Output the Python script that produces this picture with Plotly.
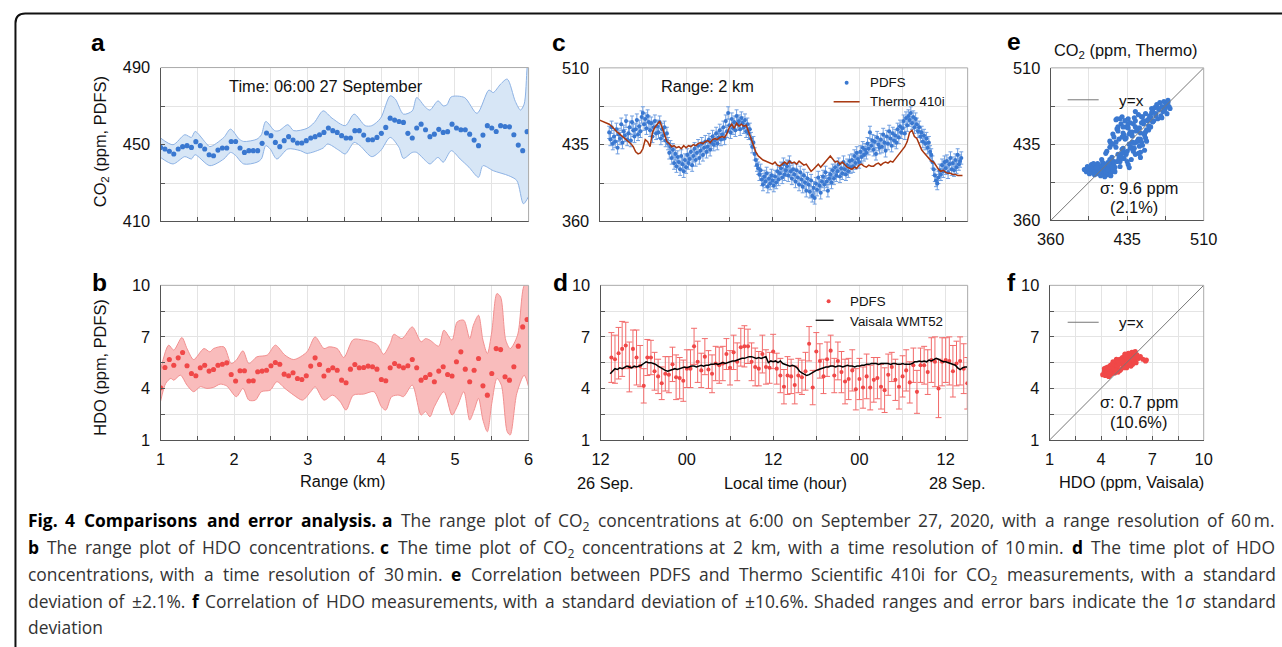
import re
import plotly.graph_objects as go
import pandas as pd

# ====================== DATA ======================
# (a) CO2 range profile, 06:00 27 Sep, 60 m resolution, 1-6 km
range_km = [round(1 + 0.06 * i, 2) for i in range(84)]
co2_range = [448.5, 447.7, 446.5, 445.1, 447.7, 448.9, 449.4, 448.5, 451.5, 449.4,
             447.7, 444.7, 444.2, 447.1, 448.2, 448.2, 451.6, 451.6, 448.2, 445.9,
             446.8, 446.8, 446.8, 450.6, 456.0, 454.6, 451.1, 448.9, 452.0, 454.1,
             452.3, 450.8, 450.8, 452.0, 453.4, 454.1, 455.1, 456.3, 458.6, 457.2,
             456.3, 454.6, 453.4, 453.4, 457.2, 457.2, 454.9, 452.5, 452.5, 453.7,
             455.8, 458.9, 463.7, 462.7, 462.0, 461.5, 455.8, 453.4, 458.6, 460.6,
             457.7, 454.1, 455.4, 457.9, 456.3, 456.7, 460.6, 458.6, 457.7, 457.7,
             455.4, 452.3, 449.4, 454.9, 459.8, 458.6, 456.8, 459.8, 459.4, 459.2,
             455.1, 449.7, 446.8, 456.7]
band_a_up_km = [1.00, 1.17, 1.33, 1.42, 1.47, 1.61, 1.67, 1.86, 1.95, 2.07, 2.13, 2.31, 2.37, 2.43,
                2.55, 2.61, 2.73, 2.81, 2.99, 3.09, 3.21, 3.33, 3.51, 3.63, 3.78, 3.87, 3.99, 4.12,
                4.19, 4.30, 4.42, 4.48, 4.60, 4.66, 4.77, 4.84, 4.89, 4.95, 5.13, 5.30, 5.46, 5.52,
                5.62, 5.71, 5.82, 5.89, 5.94, 5.98, 6.00]
band_a_up = [453.4, 449.9, 455.1, 453.7, 456.8, 451.1, 448.9, 453.7, 458.0, 452.8, 451.6, 452.8, 455.1, 462.0,
             457.2, 457.2, 460.3, 457.2, 458.4, 461.5, 467.5, 463.7, 459.8, 465.8, 459.8, 459.8, 463.7, 475.3,
             473.6, 465.8, 467.5, 474.4, 469.3, 467.9, 472.7, 470.1, 470.6, 474.8, 474.4, 466.2, 478.3, 477.0,
             481.4, 484.0, 472.4, 467.9, 471.0, 490.0, 496.0]
band_a_lo_km = [1.00, 1.17, 1.33, 1.42, 1.47, 1.67, 1.86, 1.95, 2.01, 2.13, 2.31, 2.37, 2.43, 2.49,
                2.58, 2.73, 2.90, 2.99, 3.21, 3.27, 3.42, 3.51, 3.63, 3.71, 3.87, 3.99, 4.12, 4.24,
                4.30, 4.42, 4.48, 4.60, 4.66, 4.77, 4.84, 4.95, 5.07, 5.19, 5.32, 5.38, 5.52, 5.73,
                5.84, 5.93, 6.00]
band_a_lo = [443.3, 439.9, 443.7, 442.5, 444.7, 439.0, 442.5, 445.9, 444.7, 439.9, 440.8, 442.5, 449.4, 447.7,
             442.5, 447.7, 446.8, 445.4, 448.2, 450.3, 447.1, 445.1, 451.1, 449.4, 443.7, 446.8, 453.7, 448.5,
             442.8, 445.9, 445.9, 441.6, 439.9, 443.3, 440.8, 446.8, 442.5, 438.2, 433.0, 439.0, 436.4, 433.8,
             431.3, 419.2, 423.0]

# (b) HDO range profile
hdo_range = [4.04, 5.22, 5.68, 5.35, 5.78, 6.09, 5.32, 4.87, 4.74, 5.20,
             5.35, 5.01, 5.10, 5.35, 5.41, 5.49, 4.81, 4.43, 5.03, 5.03,
             4.43, 4.45, 4.97, 5.01, 5.06, 5.32, 5.51, 5.41, 4.83, 4.74,
             4.91, 4.58, 4.52, 4.74, 5.30, 5.78, 5.39, 4.72, 5.06, 5.20,
             5.06, 4.48, 4.33, 5.12, 5.39, 5.20, 5.22, 5.30, 5.26, 5.12,
             4.52, 4.45, 5.20, 5.45, 5.30, 5.20, 5.32, 5.68, 5.20, 4.48,
             4.64, 4.81, 4.39, 5.01, 5.26, 4.81, 4.72, 5.55, 6.13, 5.12,
             4.39, 5.06, 5.74, 4.15, 3.61, 4.87, 6.32, 6.26, 4.68, 4.48,
             5.26, 6.46, 7.58, 8.01]
band_b_up_km = [1.00, 1.11, 1.18, 1.29, 1.36, 1.45, 1.59, 1.67, 1.72, 1.86, 1.96, 2.03, 2.12, 2.20,
                2.31, 2.45, 2.56, 2.69, 2.81, 2.99, 3.10, 3.22, 3.29, 3.40, 3.49, 3.62, 3.76, 3.87,
                3.95, 4.03, 4.12, 4.17, 4.28, 4.42, 4.54, 4.60, 4.66, 4.78, 4.85, 4.96, 5.03, 5.12,
                5.20, 5.25, 5.32, 5.38, 5.44, 5.50, 5.57, 5.62, 5.69, 5.75, 5.85, 5.94, 6.00]
band_b_up = [5.06, 6.52, 6.23, 6.96, 6.32, 5.68, 6.32, 6.13, 6.32, 6.42, 5.45, 5.65, 6.19, 5.45,
             5.84, 5.94, 6.52, 5.94, 5.68, 6.13, 7.00, 6.32, 6.42, 6.32, 5.80, 6.85, 6.81, 6.71,
             6.52, 5.99, 6.61, 7.15, 6.90, 7.58, 6.71, 6.90, 6.81, 6.46, 7.39, 6.81, 7.87, 7.97,
             6.90, 7.68, 8.26, 6.81, 6.03, 7.29, 9.52, 9.32, 6.81, 6.32, 7.10, 10.0, 10.2]
band_b_lo_km = [1.00, 1.07, 1.14, 1.18, 1.27, 1.36, 1.45, 1.54, 1.63, 1.72, 1.81, 1.90, 2.03, 2.12,
                2.20, 2.29, 2.37, 2.49, 2.58, 2.69, 2.81, 2.93, 3.04, 3.10, 3.22, 3.34, 3.44, 3.52,
                3.62, 3.76, 3.90, 4.00, 4.06, 4.14, 4.24, 4.30, 4.42, 4.54, 4.60, 4.66, 4.72, 4.85,
                4.96, 5.03, 5.12, 5.20, 5.26, 5.32, 5.38, 5.44, 5.50, 5.57, 5.63, 5.71, 5.75, 5.84,
                5.94, 6.00]
band_b_lo = [3.23, 4.29, 4.58, 4.48, 4.77, 4.19, 3.81, 4.10, 4.00, 4.06, 4.25, 4.14, 3.52, 4.00,
             3.32, 3.32, 3.81, 3.90, 4.39, 4.00, 3.61, 3.32, 3.81, 4.10, 3.32, 3.61, 3.23, 2.74,
             3.61, 3.67, 3.81, 2.94, 2.74, 3.52, 3.61, 3.52, 4.19, 2.45, 2.65, 2.35, 2.94, 3.81,
             2.45, 2.94, 3.81, 2.16, 2.74, 3.42, 2.16, 1.48, 3.13, 4.58, 4.19, 1.48, 1.29, 3.71,
             4.77, 4.10]

# (c) CO2 time series at 2 km (PDFS every 10 min from 13:20 26 Sep; Thermo every 20 min from 12:00)
co2_pdfs_t = [
    447, 440, 452, 436,
    443, 438, 450, 432, 445, 441, 455, 437, 448, 444, 458, 440,
    446, 452, 439, 457, 449, 443, 450, 459, 445, 453, 448, 462,
    466, 455, 460, 451, 463, 457, 449, 456, 443, 452, 458, 446,
    453, 447, 457, 441, 450, 444, 452, 439, 446, 436, 427, 433,
    422, 430, 417, 426, 414, 423, 418, 411, 424, 416, 409, 420,
    413, 425, 417, 421, 428, 415, 424, 431, 420, 427, 434, 422,
    429, 436, 425, 432, 438, 428, 433, 440, 430, 437, 443, 435,
    439, 446, 436, 442, 449, 440, 445, 452, 441, 458, 448, 466,
    454, 447, 460, 451, 457, 449, 463, 455, 458, 450, 461, 456,
    452, 459, 448, 455, 446, 450, 441, 433, 437, 426, 420, 415,
    412, 406, 410, 401, 396, 404, 399, 407, 394, 402, 397, 405,
    400, 395, 404, 398, 409, 401, 407, 412, 403, 416, 406, 410,
    414, 405, 418, 409, 402, 411, 406, 399, 410, 403, 396, 408,
    401, 394, 405, 398, 390, 402, 396, 389, 400, 385, 393, 383,
    397, 391, 403, 395, 388, 399, 404, 396, 408, 399, 390, 402,
    406, 398, 410, 402, 413, 405, 409, 416, 404, 412, 407, 418,
    411, 406, 415, 409, 419, 413, 420, 414, 424, 417, 427, 421,
    418, 428, 423, 432, 425, 430, 427, 436, 431, 447, 434, 439,
    430, 438, 426, 442, 435, 432, 440, 433, 445, 437, 429, 443,
    436, 448, 441, 434, 446, 439, 444, 437, 450, 442, 453, 447,
    451, 458, 446, 461, 454, 463, 459, 466, 456, 462, 452, 460,
    455, 448, 452, 443, 447, 438, 444, 436, 441, 432, 437, 428,
    425, 418, 411, 405, 400, 397, 403, 410, 406, 415, 409, 418,
    412, 419, 408, 416, 422, 411, 417, 410, 420, 413, 425, 416,
    419, 422]
CO2_SIGMA = 6
co2_thermo_t = [
    459, 458, 457, 456, 455, 453, 450, 448, 446, 444, 442, 440,
    438, 436, 433, 428, 426, 427, 431, 440, 438, 433, 447, 452,
    455, 458, 452, 444, 438, 436, 433, 434, 432, 433, 431, 434,
    432, 434, 433, 435, 434, 436, 437, 436, 438, 439, 437, 440,
    441, 440, 442, 443, 442, 446, 452, 455, 451, 456, 453, 455,
    453, 454, 448, 440, 434, 428, 424, 422, 420, 419, 418, 417,
    416, 418, 415, 414, 416, 418, 416, 419, 417, 418, 416, 419,
    417, 415, 416, 412, 409, 411, 414, 416, 413, 416, 419, 422,
    424, 421, 418, 419, 416, 418, 415, 413, 412, 411, 413, 412,
    415, 416, 414, 413, 415, 414, 414, 416, 417, 415, 417, 418,
    417, 419, 418, 421, 423, 426, 429, 433, 438, 447, 449, 443,
    441, 436, 430, 427, 424, 421, 419, 418, 414, 411, 409, 410,
    408, 407, 407, 406, 406, 405, 405, 405]

# (d) HDO time series (PDFS every 30 min from 13:30 26 Sep; Vaisala every 20 min from 13:20)
hdo_pdfs_t = [5.8, 5.7, 6.05, 6.3, 6.5, 5.25, 6.3, 5.8, 5.3, 4.15,
              5.8, 5.8, 5.0, 4.7, 4.3, 4.85, 4.8, 5.4, 4.65, 4.6,
              4.45, 5.15, 5.15, 6.45, 5.55, 5.05, 5.85, 5.1, 4.85, 5.45,
              5.35, 5.45, 6.0, 5.2, 6.1, 5.55, 6.4, 6.45, 6.45, 5.55,
              5.25, 5.15, 6.0, 5.25, 5.2, 6.15, 5.15, 4.75, 4.1, 4.75,
              4.7, 4.2, 4.75, 4.65, 5.0, 6.6, 4.05, 6.15, 5.6, 4.7,
              5.7, 6.2, 4.75, 5.6, 4.95, 4.4, 4.55, 5.05, 3.95, 4.55,
              4.05, 4.7, 4.05, 4.5, 4.6, 4.1, 3.9, 4.8, 5.25, 4.5,
              4.1, 4.7, 5.05, 4.35, 5.35, 3.8, 5.35, 5.35, 4.95, 5.65,
              5.55, 4.0, 5.55, 5.65, 5.6, 5.0, 5.45, 5.6, 5.15, 4.3]
hdo_pdfs_err = [1.45, 1.4, 1.5, 1.6, 1.35, 1.45, 1.1, 1.6, 1.2, 1.0,
                1.05, 1.0, 1.1, 1.0, 0.95, 1.0, 1.05, 1.0, 1.3, 1.2,
                1.2, 1.1, 1.1, 1.05, 1.2, 1.0, 1.05, 1.1, 1.1, 1.0,
                1.05, 1.0, 0.9, 1.0, 1.0, 1.1, 1.1, 1.2, 1.0, 1.1,
                1.1, 1.0, 1.1, 1.0, 0.9, 1.0, 0.9, 1.0, 1.0, 1.1,
                1.0, 1.1, 1.0, 1.0, 1.1, 1.0, 1.0, 1.1, 1.0, 1.0,
                1.0, 0.9, 1.0, 1.1, 1.2, 1.3, 1.2, 1.2, 1.2, 1.2,
                1.2, 1.3, 1.3, 1.3, 1.2, 1.3, 1.3, 1.2, 0.85, 1.2,
                1.3, 1.2, 1.2, 1.2, 1.0, 1.25, 1.0, 1.1, 1.3, 1.3,
                1.45, 1.7, 1.4, 1.3, 1.4, 1.5, 1.3, 1.4, 1.45, 1.5]
hdo_vaisala_t = [
    4.85, 5.0,
    5.15, 5.1, 5.2, 5.15, 5.25, 5.3, 5.25, 5.2, 5.3, 5.25, 5.3, 5.35,
    5.45, 5.55, 5.5, 5.5, 5.45, 5.4, 5.3, 5.2, 5.1, 5.05, 5.0, 5.05,
    5.1, 5.15, 5.1, 5.15, 5.2, 5.25, 5.2, 5.25, 5.3, 5.3, 5.25, 5.3,
    5.35, 5.3, 5.35, 5.35, 5.4, 5.4, 5.45, 5.4, 5.45, 5.5, 5.45, 5.5,
    5.55, 5.6, 5.6, 5.65, 5.7, 5.75, 5.75, 5.8, 5.85, 5.85, 5.8, 5.75,
    5.8, 5.75, 5.8, 5.85, 5.5, 5.6, 5.55, 5.6, 5.5, 5.6, 5.45, 5.4,
    5.35, 5.3, 5.35, 5.3, 5.2, 5.0, 4.9, 4.8, 4.75, 4.8, 4.9, 5.0,
    5.05, 5.1, 5.15, 5.2, 5.25, 5.25, 5.3, 5.3, 5.25, 5.3, 5.3, 5.25,
    5.3, 5.35, 5.3, 5.3, 5.25, 5.3, 5.3, 5.35, 5.35, 5.4, 5.4, 5.45,
    5.45, 5.45, 5.4, 5.45, 5.45, 5.45, 5.45, 5.4, 5.45, 5.45, 5.4, 5.4,
    5.45, 5.4, 5.4, 5.4, 5.45, 5.55, 5.55, 5.6, 5.55, 5.6, 5.55, 5.65,
    5.6, 5.7, 5.75, 5.7, 5.6, 5.55, 5.55, 5.5, 5.45, 5.4, 5.35, 5.2,
    5.1, 5.2, 5.25, 5.25]

# (e) CO2 correlation: Thermo (x) vs PDFS (y)
co2_thermo_e = [393, 395, 396, 398, 399, 400, 401, 402, 403, 404, 405, 405, 406, 407, 407, 408, 409, 410, 410, 411,
                412, 412, 413, 414, 414, 415, 416, 417, 418, 418, 419, 420, 421, 422, 423, 396, 400, 403, 406, 409,
                411, 413, 416, 419, 421, 398, 402, 405, 408, 412,
                415, 417, 418, 420, 421, 422, 424, 425, 426, 427, 428, 429, 430, 431, 432, 433, 434, 435, 436, 437,
                438, 439, 440, 441, 442, 443, 444, 445, 446, 447, 448, 449, 450, 451, 452, 453, 454, 455, 456, 457,
                458, 459, 460, 416, 419, 423, 426, 429, 432, 435, 438, 441, 444, 447, 450, 453, 456, 459, 418, 422,
                425, 428, 431, 434, 437, 440, 443, 446, 449, 452, 455, 420, 424, 427, 430, 433, 436, 439, 442, 445,
                448, 451, 454, 457, 424, 430, 436, 442, 448,
                458, 460, 461, 462, 463, 464, 465, 466, 467, 468, 469, 470, 471, 472, 473, 474, 475, 476, 477, 460,
                463, 466, 469, 472, 475, 425, 430, 433, 436,
                426, 429, 431, 434, 437, 440, 443, 446, 449, 452, 428, 433, 438, 443, 448, 453, 421, 418, 414, 410]
co2_pdfs_e = [410, 408, 412, 409, 411, 407, 413, 410, 408, 414, 406, 411, 409, 413, 407, 411, 405, 409, 414, 408,
              412, 406, 410, 415, 408, 411, 405, 413, 409, 416, 407, 412, 410, 414, 408, 413, 415, 405, 416, 404,
              417, 403, 417, 404, 418, 406, 416, 412, 408, 414,
              428, 415, 438, 422, 445, 418, 432, 450, 425, 440, 418, 455, 430, 446, 421, 440, 452, 428, 460, 435,
              447, 420, 443, 455, 431, 458, 437, 449, 426, 451, 440, 462, 434, 455, 446, 465, 438, 458, 449, 461,
              452, 466, 457, 410, 436, 412, 452, 421, 444, 418, 456, 428, 448, 433, 462, 441, 453, 470, 420, 442,
              418, 460, 431, 425, 445, 437, 452, 440, 456, 444, 459, 413, 437, 421, 442, 427, 451, 432, 461, 438,
              446, 458, 449, 463, 459, 426, 415, 436, 422,
              462, 468, 458, 471, 465, 474, 460, 469, 476, 463, 472, 467, 477, 470, 474, 465, 476, 472, 470, 457,
              463, 470, 461, 469, 478, 460, 462, 458, 455,
              448, 423, 452, 441, 412, 447, 425, 464, 437, 429, 413, 458, 431, 467, 427, 447, 435, 432, 426, 420]

# (f) HDO correlation: Vaisala (x) vs PDFS (y)
hdo_vaisala_f = [4.1, 4.2, 4.25, 4.3, 4.35, 4.4, 4.45, 4.5, 4.55, 4.6, 4.65, 4.7, 4.75, 4.8, 4.85, 4.9, 4.95, 5.0,
                 5.05, 5.1, 5.15, 5.2, 5.25, 5.3, 5.35, 5.4, 5.45, 5.5, 5.55, 5.6, 5.65, 5.7, 5.75, 5.8, 5.85, 5.9,
                 5.95, 6.0, 6.05, 6.1, 6.2, 6.3, 6.45, 6.6, 6.65,
                 4.2, 4.3, 4.4, 4.5, 4.6, 4.7, 4.8, 4.9, 5.0, 5.1, 5.2, 5.3, 5.4, 5.5, 5.6, 5.7, 5.8, 5.9, 6.0, 6.1,
                 4.35, 4.55, 4.75, 4.95, 5.15, 5.35, 5.55, 5.75, 5.95, 4.45, 4.65, 4.85, 5.05, 5.25, 5.45, 5.65, 5.85]
hdo_pdfs_f = [4.8, 5.0, 4.75, 5.2, 4.9, 5.25, 4.7, 5.1, 5.35, 4.85, 5.3, 5.0, 5.45, 4.9, 5.55, 5.15, 5.6, 4.95,
              5.4, 5.7, 5.1, 5.5, 5.8, 5.25, 5.65, 5.95, 5.3, 5.75, 5.45, 6.05, 5.55, 5.85, 5.6, 6.1, 5.4, 5.9,
              5.7, 6.15, 5.5, 5.95, 5.75, 5.85, 5.7, 5.6, 5.65,
              5.15, 4.8, 5.05, 4.75, 5.2, 5.55, 5.25, 5.7, 5.35, 5.05, 5.65, 5.45, 6.0, 5.2, 5.8, 5.35, 5.5, 6.1,
              5.65, 5.85,
              5.0, 4.95, 5.15, 5.3, 5.45, 5.2, 5.6, 5.3, 5.55, 4.85, 5.4, 5.05, 5.5, 5.6, 5.85, 5.45, 5.75]

co2_limits = [360, 510]
hdo_limits = [1, 10]

t_co2_pdfs = pd.date_range("2020-09-26 13:20", periods=len(co2_pdfs_t), freq="10min")
t_co2_thermo = pd.date_range("2020-09-26 12:00", periods=len(co2_thermo_t), freq="20min")
t_hdo_pdfs = pd.date_range("2020-09-26 13:30", periods=len(hdo_pdfs_t), freq="30min")
t_hdo_vais = pd.date_range("2020-09-26 13:20", periods=len(hdo_vaisala_t), freq="20min")

# ====================== LAYOUT HELPERS ======================
W, H = 1282, 647
# measured page->picture mapping of the photographing step (picture = O + S * page)
SX, OX = 0.978, 13.5
SY, OY = 0.9745, 8.0
K = 1 / 0.976  # size compensation for fonts / markers

def pgx(x): return (x - OX) / SX          # target picture px -> page px
def pgy(y): return (y - OY) / SY
def px(x): return pgx(x) / W
def py(y): return 1 - pgy(y) / H
def fs(s): return round(s * K, 2)

BLUE = "#3a78d0"
RED = "#f04848"
FONT = "Liberation Sans, Arial, Helvetica, sans-serif"

fig = go.Figure()

# (a)
bl_a = dict(color="#8db2e4", width=1, shape="spline", smoothing=0.8)
fig.add_trace(go.Scatter(x=band_a_lo_km, y=band_a_lo, mode="lines", line=bl_a, xaxis="x", yaxis="y"))
fig.add_trace(go.Scatter(x=band_a_up_km, y=band_a_up, mode="lines", line=bl_a, fill="tonexty",
                         fillcolor="#d7e6f6", xaxis="x", yaxis="y"))
fig.add_trace(go.Scatter(x=range_km, y=co2_range, mode="markers", marker=dict(color=BLUE, size=fs(5)),
                         xaxis="x", yaxis="y"))
# (b)
bl_b = dict(color="#f19090", width=1, shape="spline", smoothing=0.8)
fig.add_trace(go.Scatter(x=band_b_lo_km, y=band_b_lo, mode="lines", line=bl_b, xaxis="x2", yaxis="y2"))
fig.add_trace(go.Scatter(x=band_b_up_km, y=band_b_up, mode="lines", line=bl_b, fill="tonexty",
                         fillcolor="#f9bcbc", xaxis="x2", yaxis="y2"))
fig.add_trace(go.Scatter(x=range_km, y=hdo_range, mode="markers", marker=dict(color=RED, size=fs(5)),
                         xaxis="x2", yaxis="y2"))
# (c)
fig.add_trace(go.Scatter(x=t_co2_pdfs, y=co2_pdfs_t, mode="markers",
                         marker=dict(color=BLUE, size=fs(4)),
                         error_y=dict(type="constant", value=CO2_SIGMA, color="#6f9ee0", thickness=1, width=2),
                         xaxis="x3", yaxis="y3"))
fig.add_trace(go.Scatter(x=t_co2_thermo, y=co2_thermo_t, mode="lines", line=dict(color="#a8360e", width=1.5),
                         xaxis="x3", yaxis="y3"))
# (d)
fig.add_trace(go.Scatter(x=t_hdo_pdfs, y=hdo_pdfs_t, mode="markers",
                         marker=dict(color=RED, size=fs(4)),
                         error_y=dict(type="data", array=hdo_pdfs_err, color="#f26a6a", thickness=1, width=3),
                         xaxis="x4", yaxis="y4"))
fig.add_trace(go.Scatter(x=t_hdo_vais, y=hdo_vaisala_t, mode="lines", line=dict(color="black", width=1.5),
                         xaxis="x4", yaxis="y4"))
# (e)
fig.add_trace(go.Scatter(x=co2_thermo_e, y=co2_pdfs_e, mode="markers", marker=dict(color=BLUE, size=fs(5)),
                         xaxis="x5", yaxis="y5"))
fig.add_trace(go.Scatter(x=co2_limits, y=co2_limits, mode="lines", line=dict(color="#777", width=1),
                         xaxis="x5", yaxis="y5"))
# (f)
fig.add_trace(go.Scatter(x=hdo_vaisala_f, y=hdo_pdfs_f, mode="markers", marker=dict(color=RED, size=fs(5)),
                         xaxis="x6", yaxis="y6"))
fig.add_trace(go.Scatter(x=hdo_limits, y=hdo_limits, mode="lines", line=dict(color="#777", width=1),
                         xaxis="x6", yaxis="y6"))

GRID = "#e4e4e4"
def minor(dtick, tick0):
    return dict(dtick=dtick, tick0=tick0, showgrid=True, gridcolor=GRID, gridwidth=1,
                ticks="inside", ticklen=4, tickcolor="#555")

base = dict(showgrid=True, gridcolor=GRID, gridwidth=1, zeroline=False, showline=True,
            linecolor="#555", linewidth=1.2, ticks="inside", ticklen=4, tickcolor="#555",
            tickfont=dict(family=FONT, size=fs(16), color="#111"), fixedrange=True)

def ax(**kw):
    d = dict(base)
    d.update(kw)
    return d

H12 = 12 * 3600 * 1000
H6 = 6 * 3600 * 1000
T0 = "2020-09-26 12:00"
t_range = ["2020-09-26 12:00", "2020-09-28 15:03"]

fig.update_layout(
    width=W, height=H, margin=dict(l=0, r=0, t=0, b=0), showlegend=False,
    paper_bgcolor="white", plot_bgcolor="white",
    xaxis=ax(domain=[px(160), px(528)], range=[1, 6], dtick=1, tick0=1, minor=minor(0.5, 1),
             showticklabels=False, anchor="y"),
    yaxis=ax(domain=[py(221), py(66.7)], range=[410, 490], dtick=40, tick0=410, minor=minor(20, 410),
             anchor="x", ticklabelstandoff=6),
    xaxis2=ax(domain=[px(160), px(528)], range=[1, 6], dtick=1, tick0=1, minor=minor(0.5, 1),
              anchor="y2", ticklabelstandoff=4),
    yaxis2=ax(domain=[py(440), py(285)], range=[1, 10], dtick=3, tick0=1, minor=minor(1.5, 1),
              anchor="x2", ticklabelstandoff=6),
    xaxis3=ax(domain=[px(599), px(967)], type="date", range=t_range, dtick=H12, tick0=T0,
              minor=minor(H6, T0), showticklabels=False, anchor="y3"),
    yaxis3=ax(domain=[py(221), py(67)], range=[360, 510], dtick=75, tick0=360, minor=minor(37.5, 360),
              anchor="x3", ticklabelstandoff=6),
    xaxis4=ax(domain=[px(600), px(967)], type="date", range=t_range, dtick=H12, tick0=T0,
              minor=minor(H6, T0), tickformat="%H", anchor="y4", ticklabelstandoff=4),
    yaxis4=ax(domain=[py(440), py(285)], range=[1, 10], dtick=3, tick0=1, minor=minor(1.5, 1),
              anchor="x4", ticklabelstandoff=6),
    xaxis5=ax(domain=[px(1050), px(1203)], range=[360, 510], dtick=75, tick0=360, minor=minor(37.5, 360),
              anchor="y5", ticklabelstandoff=4),
    yaxis5=ax(domain=[py(220), py(67)], range=[360, 510], dtick=75, tick0=360, minor=minor(37.5, 360),
              anchor="x5", ticklabelstandoff=6),
    xaxis6=ax(domain=[px(1049), px(1203)], range=[1, 10], dtick=3, tick0=1, minor=minor(1.5, 1),
              anchor="y6", ticklabelstandoff=4),
    yaxis6=ax(domain=[py(440), py(285)], range=[1, 10], dtick=3, tick0=1, minor=minor(1.5, 1),
              anchor="x6", ticklabelstandoff=6),
)

shapes = []
for i in ["", "2", "3", "4", "5", "6"]:
    shapes.append(dict(type="line", xref=f"x{i} domain", yref=f"y{i} domain", x0=0, x1=1, y0=1, y1=1,
                       line=dict(color="#aaaaaa", width=1)))
    shapes.append(dict(type="line", xref=f"x{i} domain", yref=f"y{i} domain", x0=1, x1=1, y0=0, y1=1,
                       line=dict(color="#aaaaaa", width=1)))
# legend glyphs
shapes.append(dict(type="line", xref="paper", yref="paper", x0=px(833), x1=px(859), y0=py(101), y1=py(101),
                   line=dict(color="#a8360e", width=1.5)))
shapes.append(dict(type="circle", xref="paper", yref="paper", x0=px(844), x1=px(848), y0=py(84), y1=py(80),
                   fillcolor=BLUE, line=dict(width=0)))
shapes.append(dict(type="line", xref="paper", yref="paper", x0=px(815), x1=px(833), y0=py(320), y1=py(320),
                   line=dict(color="black", width=1.2)))
shapes.append(dict(type="circle", xref="paper", yref="paper", x0=px(826), x1=px(830), y0=py(303), y1=py(299),
                   fillcolor=RED, line=dict(width=0)))
for yy in (99, 322):
    shapes.append(dict(type="line", xref="paper", yref="paper", x0=px(1067), x1=px(1098), y0=py(yy), y1=py(yy),
                       line=dict(color="#777", width=1)))
# rounded frame of the figure page (left edge kept just inside the page)
fx, fy, r = 1.5 / W, py(12.5), 10 / W
shapes.append(dict(type="path", xref="paper", yref="paper",
                   path=f"M {fx},-0.05 L {fx},{fy - 10 / H} Q {fx},{fy} {fx + r},{fy} L 1.05,{fy}",
                   line=dict(color="#111", width=2)))

ann = []
def text(x, y, s, size=16, xanchor="center", yanchor="middle", bold=False, angle=0, color="#111", family=FONT):
    ann.append(dict(x=px(x), y=py(y), xref="paper", yref="paper", text=(f"<b>{s}</b>" if bold else s),
                    showarrow=False, xanchor=xanchor, yanchor=yanchor, textangle=angle,
                    font=dict(family=family, size=fs(size), color=color)))

for lab, x, y in [("a", 97.5, 42), ("b", 98.5, 282), ("c", 558, 42), ("d", 559.5, 282), ("e", 1013, 41),
                  ("f", 1011, 282)]:
    text(x, y, lab, size=24, bold=True, color="#000")

text(100, 141, "CO<sub>2</sub> (ppm, PDFS)", angle=-90)
text(100, 368, "HDO (ppm, PDFS)", angle=-90)
text(342, 481, "Range (km)")
text(604, 483, "26 Sep.")
text(785, 483, "Local time (hour)")
text(956, 483, "28 Sep.")
text(1131, 482, "HDO (ppm, Vaisala)")
text(1125, 50, "CO<sub>2</sub> (ppm, Thermo)")
text(325, 85, "Time: 06:00 27 September")
text(707, 85, "Range: 2 km")
text(867, 82, "PDFS", size=13, xanchor="left")
text(867, 101, "Thermo 410i", size=13, xanchor="left")
text(847, 301, "PDFS", size=13, xanchor="left")
text(847, 321, "Vaisala WMT52", size=13, xanchor="left")
text(1116, 100, "y=x", size=15, xanchor="left")
text(1116, 322, "y=x", size=15, xanchor="left")
text(1138, 187, "σ: 9.6 ppm")
text(1133, 206, "(2.1%)")
text(1138, 402, "σ: 0.7 ppm")
text(1138, 422, "(10.6%)")

# ---------------- caption (justified word by word) ----------------
CAP = "Open Sans, Noto Sans, sans-serif"
CAP_SIZE = fs(17)
WID = dict(a=.556, b=.613, c=.480, d=.613, e=.561, f=.336, g=.546, h=.614, i=.252, j=.252, k=.529, l=.252,
           m=.931, n=.614, o=.603, p=.613, q=.613, r=.409, s=.478, t=.352, u=.614, v=.500, w=.778, x=.522,
           y=.500, z=.468, A=.633, B=.647, C=.631, D=.729, E=.556, F=.516, G=.723, H=.738, I=.279, J=.268,
           K=.600, L=.519, M=.907, N=.764, O=.779, P=.602, Q=.779, R=.618, S=.549, T=.553, U=.728, V=.592,
           W=.934, X=.579, Y=.559, Z=.559)
WID.update({".": .266, ",": .245, ":": .266, "(": .296, ")": .296, "%": .823, "±": .572, "σ": .62,
            "\u2009": .2, " ": .26})
for dgt in "0123456789":
    WID[dgt] = .572

def chars_w(s):
    return sum(WID.get(ch, .56) for ch in s)

def word_width(w, bold):
    subs = re.findall(r"<sub>(.*?)</sub>", w)
    main = re.sub(r"<sub>.*?</sub>", "", w)
    main = re.sub(r"<[^>]+>", "", main)
    em = chars_w(main) + 0.7 * sum(chars_w(s) for s in subs)
    return em * CAP_SIZE * (1.08 if bold else 1.0)

cap_lines = [
    [("Fig. 4 Comparisons and error analysis. a", True),
     ("The range plot of CO<sub>2</sub> concentrations at 6:00 on September 27, 2020, with a range "
      "resolution of 60\u2009m.", False)],
    [("b", True), ("The range plot of HDO concentrations.", False), ("c", True),
     ("The time plot of CO<sub>2</sub> concentrations at 2 km, with a time resolution of 10\u2009min.", False),
     ("d", True), ("The time plot of HDO", False)],
    [("concentrations, with a time resolution of 30\u2009min.", False), ("e", True),
     ("Correlation between PDFS and Thermo Scientific 410i for CO<sub>2</sub> measurements, with a standard",
      False)],
    [("deviation of ±2.1%.", False), ("f", True),
     ("Correlation of HDO measurements, with a standard deviation of ±10.6%. Shaded ranges and error bars "
      "indicate the 1<i>σ</i> standard", False)],
]
XL, XR = pgx(25), pgx(1272)
HALF = (0.65 * CAP_SIZE + 3.5) / H   # offset from line centre to annotation top, paper units
for li, segs in enumerate(cap_lines):
    words = []
    for s, b in segs:
        for w in s.split(" "):
            words.append((w, b))
    widths = [word_width(w, b) for w, b in words]
    gap = (XR - XL - sum(widths)) / (len(words) - 1)
    x = XL
    ytop = py(521 + 26.8 * li) + HALF
    for (w, b), wd in zip(words, widths):
        ann.append(dict(x=x / W, y=ytop, xref="paper", yref="paper",
                        text=(f"<b>{w}</b>" if b else w), showarrow=False,
                        xanchor="left", yanchor="top",
                        font=dict(family=CAP, size=CAP_SIZE, color="#000" if b else "#333")))
        x += wd + gap
ann.append(dict(x=XL / W, y=py(521 + 26.8 * 4) + HALF, xref="paper", yref="paper", text="deviation",
                showarrow=False, xanchor="left", yanchor="top",
                font=dict(family=CAP, size=CAP_SIZE, color="#333")))

fig.update_layout(shapes=shapes, annotations=ann)

fig.write_html("out.html", config={"displayModeBar": False},
               post_script="document.body.style.margin='0';document.body.style.overflow='hidden';")
